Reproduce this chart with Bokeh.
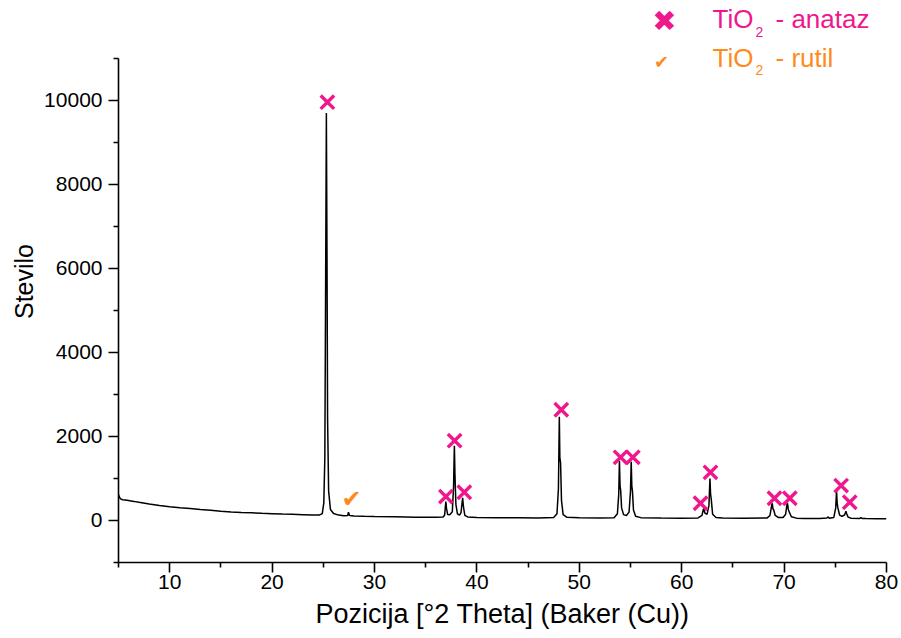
from bokeh.plotting import figure
from bokeh.models import Range1d, FixedTicker, Label, ColumnDataSource
from bokeh.core.properties import value
from bokeh.embed import file_html
from bokeh.resources import INLINE

# ---- data ----
two_theta = [5.00, 5.08, 5.20, 5.40, 5.85, 6.50, 7.00, 8.00, 9.00, 10.0, 11.0, 12.0, 13.0, 14.0,
             15.0, 16.0, 17.0, 18.0, 19.0, 20.0, 21.0, 22.0, 23.0, 24.0, 24.6, 24.9, 25.05, 25.15,
             25.22, 25.30, 25.36, 25.42, 25.52, 25.70, 26.00, 26.50, 27.00, 27.38, 27.46, 27.56,
             28.0, 29.0, 30.0, 32.0, 34.0, 36.0, 36.70, 36.85, 36.92, 36.97, 37.03, 37.15, 37.35,
             37.60, 37.72, 37.80, 37.86, 37.95, 38.10, 38.30, 38.45, 38.55, 38.61, 38.68, 38.82,
             39.10, 40.0, 42.0, 44.0, 46.0, 47.50, 47.82, 47.96, 48.05, 48.10, 48.17, 48.26, 48.42,
             48.80, 50.0, 52.0, 53.40, 53.72, 53.85, 53.92, 53.98, 54.04, 54.13, 54.32, 54.60,
             54.86, 55.00, 55.07, 55.13, 55.19, 55.29, 55.50, 56.00, 58.0, 60.0, 61.60, 61.98,
             62.10, 62.16, 62.26, 62.48, 62.66, 62.76, 62.82, 62.88, 63.02, 63.35, 64.0, 66.0,
             68.35, 68.62, 68.78, 68.84, 68.91, 68.99, 69.13, 69.42, 69.90, 70.15, 70.28, 70.33,
             70.41, 70.51, 70.71, 71.20, 72.0, 73.5, 74.18, 74.28, 74.42, 74.85, 75.04, 75.12,
             75.18, 75.25, 75.42, 75.65, 75.90, 76.04, 76.11, 76.25, 76.55, 77.40, 77.50, 77.62,
             78.0, 79.0, 80.0]
counts = [620, 560, 515, 495, 480, 455, 432, 392, 358, 330, 305, 285, 262, 242,
          222, 205, 192, 182, 172, 163, 154, 146, 138, 128, 128, 165, 420, 1500,
          5200, 9700, 6400, 2400, 700, 260, 165, 128, 115, 118, 195, 118,
          108, 100, 95, 88, 80, 75, 82, 130, 330, 450, 290, 140, 135,
          210, 800, 1780, 1050, 380, 160, 130, 190, 420, 540, 340, 120,
          85, 72, 68, 65, 62, 70, 160, 750, 2470, 1500, 1380, 480, 140,
          75, 64, 58, 66, 160, 620, 1420, 820, 720, 300, 140, 118,
          200, 700, 1400, 820, 700, 250, 100, 68, 58, 55, 60, 120,
          250, 285, 175, 150, 360, 1000, 620, 520, 150, 70, 58, 54,
          62, 120, 350, 410, 280, 250, 120, 72, 72, 150, 380, 410,
          260, 200, 90, 56, 50, 50, 58, 85, 55, 70, 300, 700,
          420, 300, 130, 100, 130, 220, 160, 80, 55, 50, 66, 48,
          45, 42, 40]

anatase_x = [25.40, 36.97, 37.82, 38.77, 48.24, 54.03, 55.23, 61.84, 62.81, 69.06, 70.56, 75.57, 76.41]
anatase_y = [9960, 570, 1900, 672, 2636, 1504, 1504, 411, 1147, 530, 530, 831, 435]
rutile_x = [27.77]
rutile_y = [515]

x_ticks = [10, 20, 30, 40, 50, 60, 70, 80]
x_minor = [5, 15, 25, 35, 45, 55, 65, 75]
y_ticks = [0, 2000, 4000, 6000, 8000, 10000]
y_minor = [-1000, 1000, 3000, 5000, 7000, 9000, 11000]

PINK = "#F0168C"
ORANGE = "#FF8A1C"
FONT = "Liberation Sans"
SYM = "DejaVu Sans"

W, H = 901, 638
FL, FR, FB = 118, 886, 562   # frame left / right / bottom in canvas pixels

p = figure(width=W, height=H, output_backend="svg", toolbar_location=None,
           x_range=Range1d(5, 80), y_range=Range1d(-1000, 12380),
           min_border_left=FL, min_border_right=W - FR, min_border_top=0,
           min_border_bottom=H - FB)
p.outline_line_color = None
p.grid.visible = False
p.background_fill_color = "white"

p.xaxis.bounds = (5, 80)
p.yaxis.bounds = (-1000, 11000)
p.xaxis.ticker = FixedTicker(ticks=x_ticks, minor_ticks=x_minor)
p.yaxis.ticker = FixedTicker(ticks=y_ticks, minor_ticks=y_minor)

for ax in (p.xaxis, p.yaxis):
    ax.axis_line_width = 1.6
    ax.axis_line_color = "black"
    ax.major_tick_line_width = 1.6
    ax.minor_tick_line_width = 1.6
    ax.major_tick_in = 0
    ax.major_tick_out = 10
    ax.minor_tick_in = 0
    ax.minor_tick_out = 5
    ax.major_label_text_font = FONT
    ax.major_label_text_font_size = "21px"
    ax.major_label_text_color = "black"
    ax.axis_label_text_font = FONT
    ax.axis_label_text_font_style = "normal"
    ax.axis_label_text_color = "black"

p.xaxis.axis_label = "Pozicija [°2 Theta] (Baker (Cu))"
p.xaxis.axis_label_text_font_size = "27px"
p.xaxis.major_label_standoff = 2
p.xaxis.axis_label_standoff = 7
p.yaxis.axis_label = "Stevilo"
p.yaxis.axis_label_text_font_size = "25px"
p.yaxis.major_label_standoff = 6
p.yaxis.axis_label_standoff = 3

p.line(two_theta, counts, line_color="black", line_width=1.5)

p.scatter(anatase_x, anatase_y, marker="x", size=19, line_color=PINK, line_width=3.4)

rsrc = ColumnDataSource(dict(x=rutile_x, y=rutile_y, t=["✔"] * len(rutile_x)))
p.text(x="x", y="y", text="t", source=rsrc, text_font=value(SYM), text_font_size="24px",
       text_align="center", text_baseline="middle", text_color=ORANGE)

# ---- legend (manual, screen units are relative to the frame's bottom-left) ----
def lab(x, ytop, text, size, color, font=FONT, align="left", baseline="alphabetic"):
    p.add_layout(Label(x=x - FL, y=FB - ytop, x_units="screen", y_units="screen", text=text,
                       text_font=font, text_font_size=size, text_color=color,
                       text_align=align, text_baseline=baseline))

lab(664, 20, "✖", "29px", PINK, SYM, "center", "middle")
lab(712, 18.5, "TiO", "26px", PINK)
lab(755, 31.5, "2", "14px", PINK)
lab(775, 18.5, "- anataz", "26px", PINK)

lab(661, 61, "✔", "18px", ORANGE, SYM, "center", "middle")
lab(712, 57, "TiO", "26px", ORANGE)
lab(755, 69.5, "2", "14px", ORANGE)
lab(775, 57, "- rutil", "26px", ORANGE)

open("out.html", "w").write(file_html(p, INLINE))
